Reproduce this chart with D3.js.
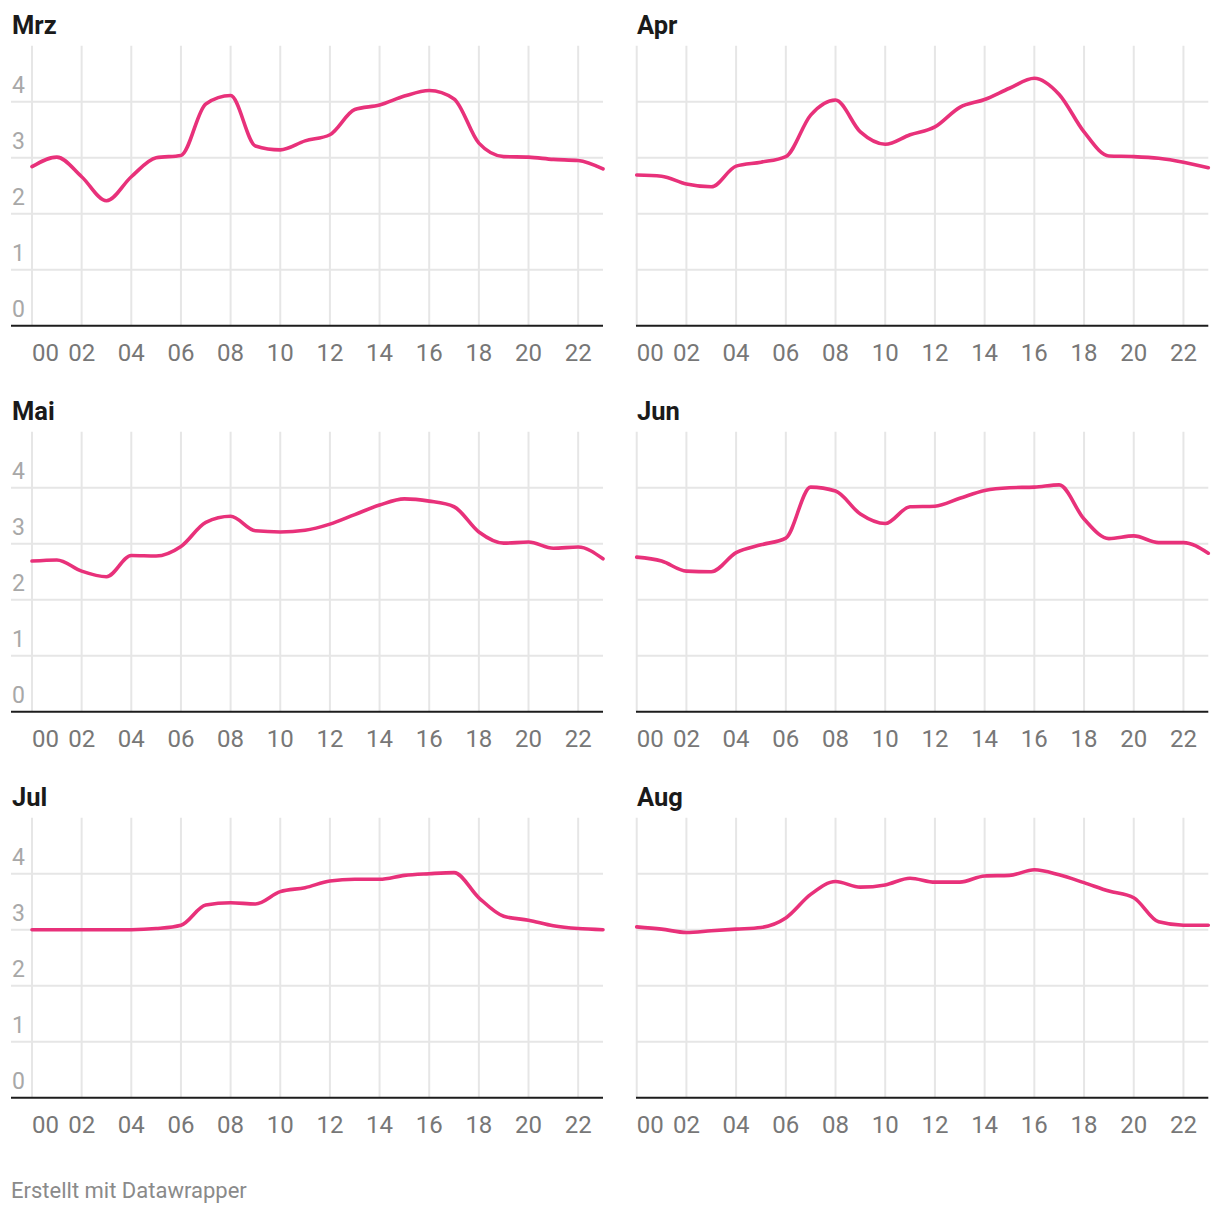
<!DOCTYPE html>
<html>
<head>
<meta charset="utf-8">
<script src="https://cdn.jsdelivr.net/npm/d3@7"></script>
<style>
  body { margin: 0; background: #fff; }
  text { font-family: Roboto, "Noto Sans", sans-serif; }
</style>
</head>
<body>
<div id="chart-area"></div>
<script>
// Data -------------------------------------------------
const hours = [0, 1, 2, 3, 4, 5, 6, 7, 8, 9, 10, 11, 12, 13, 14, 15, 16, 17, 18, 19, 20, 21, 22, 23]
const hourTicks = [0, 2, 4, 6, 8, 10, 12, 14, 16, 18, 20, 22]
const hourLabels = ["00", "02", "04", "06", "08", "10", "12", "14", "16", "18", "20", "22"]
const yTicks = [0, 1, 2, 3, 4]
const months = ["Mrz", "Apr", "Mai", "Jun", "Jul", "Aug"]

const mrz = [2.84, 3.01, 2.66, 2.23, 2.66, 3.00, 3.04, 3.96, 4.11, 3.21, 3.14, 3.30, 3.41, 3.86, 3.94, 4.10, 4.20, 4.05, 3.26, 3.02, 3.01, 2.97, 2.95, 2.80]
const apr = [2.69, 2.67, 2.53, 2.48, 2.85, 2.92, 3.02, 3.76, 4.03, 3.46, 3.24, 3.41, 3.55, 3.90, 4.04, 4.24, 4.42, 4.13, 3.46, 3.03, 3.02, 2.99, 2.92, 2.82]
const mai = [2.69, 2.71, 2.51, 2.41, 2.79, 2.78, 2.95, 3.38, 3.49, 3.23, 3.21, 3.24, 3.35, 3.52, 3.69, 3.80, 3.76, 3.66, 3.21, 3.01, 3.03, 2.92, 2.94, 2.73]
const jun = [2.76, 2.69, 2.51, 2.50, 2.84, 2.98, 3.10, 4.01, 3.94, 3.53, 3.36, 3.66, 3.67, 3.81, 3.95, 4.00, 4.01, 4.05, 3.44, 3.09, 3.14, 3.02, 3.02, 2.83]
const jul = [3.00, 3.00, 3.00, 3.00, 3.00, 3.02, 3.08, 3.44, 3.48, 3.46, 3.68, 3.75, 3.87, 3.90, 3.90, 3.97, 4.00, 4.02, 3.57, 3.24, 3.17, 3.07, 3.02, 3.00]
const aug = [3.05, 3.01, 2.95, 2.98, 3.01, 3.04, 3.21, 3.63, 3.86, 3.76, 3.80, 3.92, 3.85, 3.85, 3.96, 3.97, 4.07, 3.98, 3.84, 3.69, 3.57, 3.14, 3.08, 3.08]
const series = [mrz, apr, mai, jun, jul, aug]

// Canvas setup -----------------------------------------
const WIDTH = 1220
const HEIGHT = 1214
const LINE_COLOR = "#e8317a"
const GRID_COLOR = "#e6e6e6"

const colLeft = [11, 636]          // left edge of each column
const colX0 = [32, 636.7]          // x of hour 0
const colX23 = [603, 1208.3]       // x of hour 23
const rowBase = [325.7, 711.7, 1097.7] // baseline of each row
const plotH = 280

const svg = d3.select("#chart-area").append("svg")
  .attr("width", WIDTH)
  .attr("height", HEIGHT)

months.forEach((m, k) => {
  const col = k % 2
  const row = Math.floor(k / 2)
  const base = rowBase[row]
  const left = colLeft[col]
  const right = colX23[col]

  const x = d3.scaleLinear().domain([0, 23]).range([colX0[col], colX23[col]])
  const y = d3.scaleLinear().domain([0, 5]).range([base, base - plotH])

  const g = svg.append("g")

  // horizontal grid
  g.selectAll(".hgrid")
    .data(yTicks.filter(d => d > 0))
    .enter().append("line")
    .attr("x1", left).attr("x2", right)
    .attr("y1", d => y(d)).attr("y2", d => y(d))
    .attr("stroke", GRID_COLOR)
    .attr("stroke-width", 2)

  // vertical grid
  g.selectAll(".vgrid")
    .data(hourTicks)
    .enter().append("line")
    .attr("x1", d => x(d)).attr("x2", d => x(d))
    .attr("y1", y(5)).attr("y2", base)
    .attr("stroke", GRID_COLOR)
    .attr("stroke-width", 2)

  // y labels, only in left column
  if (col == 0) {
    g.selectAll(".ylab")
      .data(yTicks)
      .enter().append("text")
      .attr("x", left + 1)
      .attr("y", d => y(d) - 9)
      .attr("font-size", "23px")
      .attr("fill", "#a8a8a8")
      .text(d => d)
  }

  // line
  const line = d3.line()
    .x((d, i) => x(hours[i]))
    .y(d => y(d))
    .curve(d3.curveMonotoneX)

  g.append("path")
    .datum(series[k])
    .attr("d", line)
    .attr("fill", "none")
    .attr("stroke", LINE_COLOR)
    .attr("stroke-width", 3.6)
    .attr("stroke-linejoin", "round")
    .attr("stroke-linecap", "round")

  // baseline
  g.append("line")
    .attr("x1", left).attr("x2", right)
    .attr("y1", base).attr("y2", base)
    .attr("stroke", "#1d1d1d")
    .attr("stroke-width", 2)

  // x tick labels
  g.selectAll(".xlab")
    .data(hourTicks)
    .enter().append("text")
    .attr("x", d => x(d))
    .attr("y", base + 35)
    .attr("text-anchor", (d, i) => i == 0 ? "start" : "middle")
    .attr("font-size", "24px")
    .attr("fill", "#777")
    .text((d, i) => hourLabels[i])

  // title
  g.append("text")
    .attr("x", left + 1)
    .attr("y", base - 291.7)
    .attr("font-size", "25.5px")
    .attr("font-weight", "bold")
    .attr("fill", "#1a1a1a")
    .text(m)
})

svg.append("text")
  .attr("x", 11)
  .attr("y", 1198)
  .attr("font-size", "22px")
  .attr("fill", "#8a8a8a")
  .text("Erstellt mit Datawrapper")
</script>
</body>
</html>
